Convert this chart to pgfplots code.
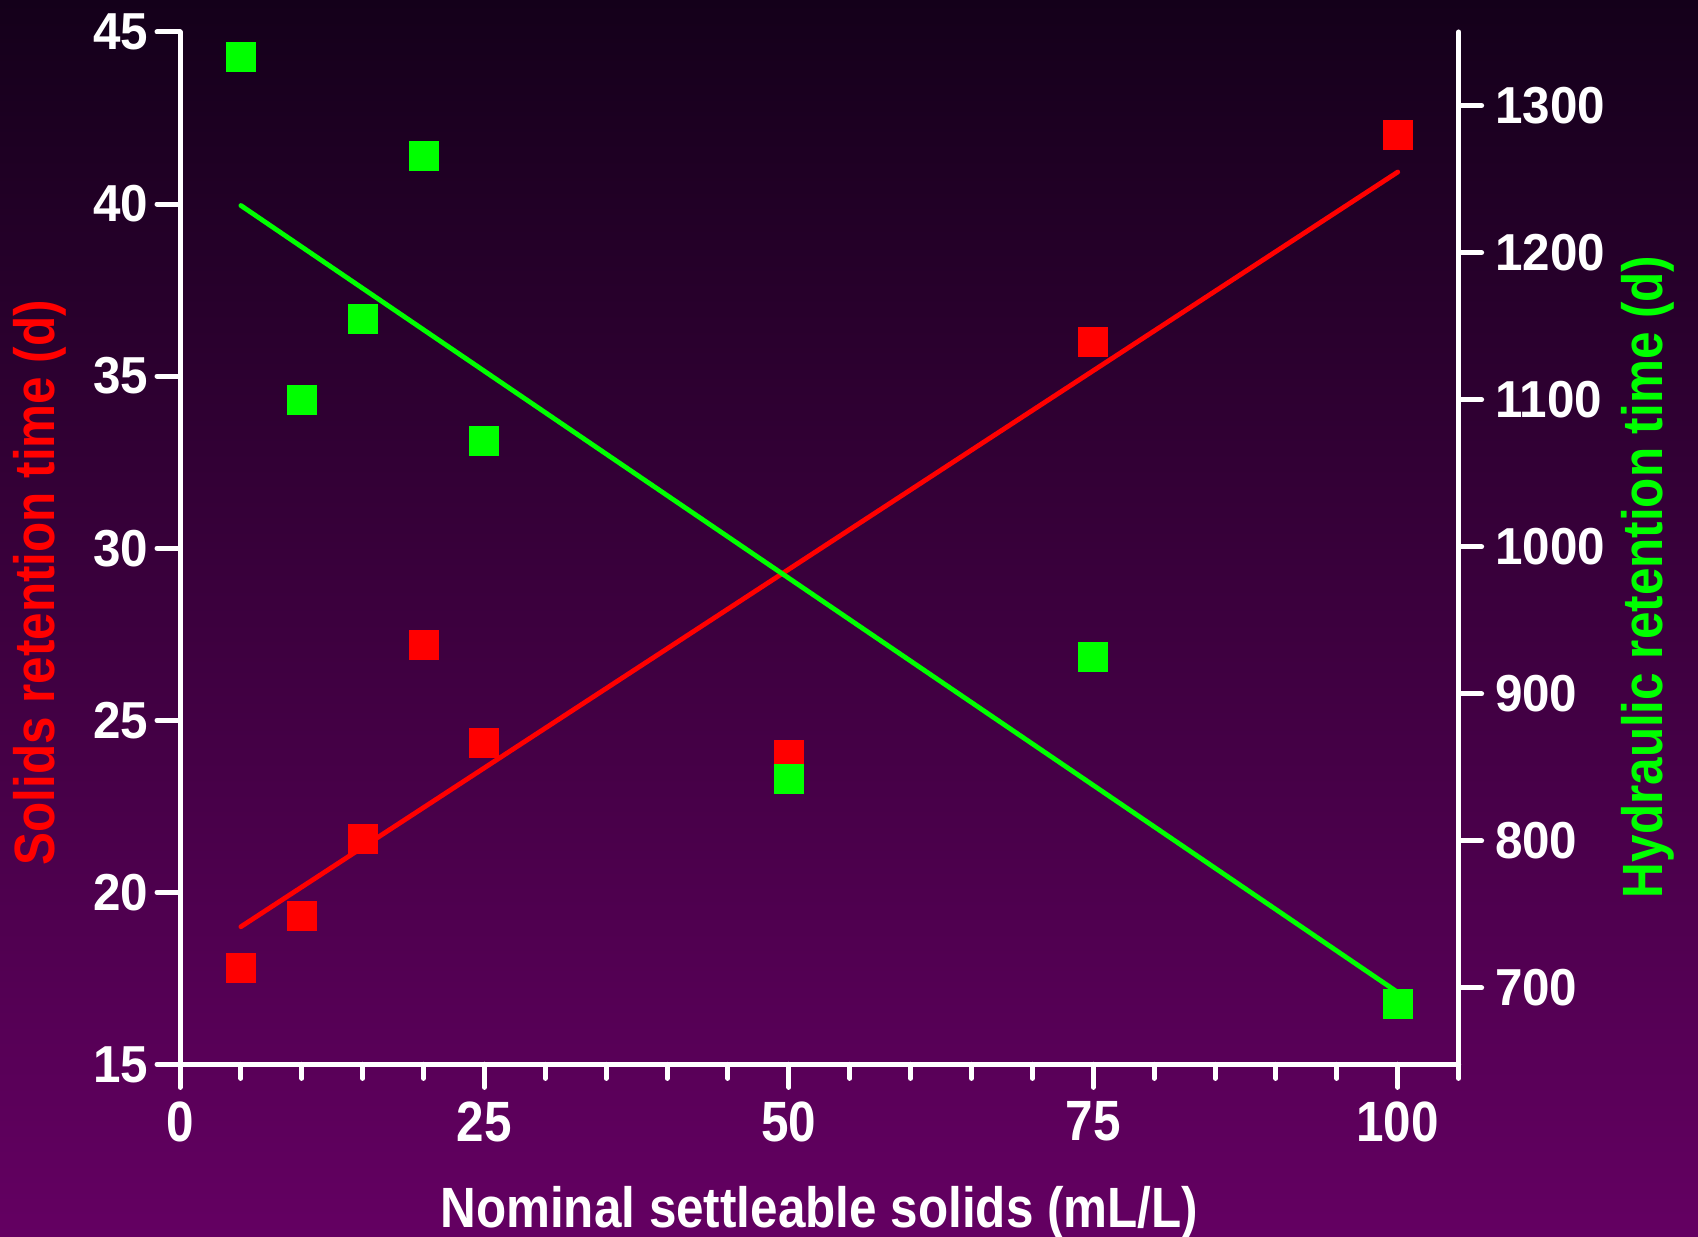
\documentclass[border=0pt]{standalone}
\usepackage{fontspec}
\setmainfont{Liberation Sans}
\usepackage{graphicx}
\usepackage{pgfplots}
\pgfplotsset{compat=1.18}
\definecolor{bgtop}{RGB}{20,0,26}
\definecolor{bgmid}{RGB}{74,0,76}
\definecolor{bgbot}{RGB}{100,0,98}
\definecolor{myred}{RGB}{255,0,0}
\definecolor{mygreen}{RGB}{0,255,0}
\begin{document}
\begin{tikzpicture}
\shade[top color=bgtop, middle color=bgmid, bottom color=bgbot] (-45pt,-43.1pt) rectangle (379.5pt,266.1pt);
\pgfplotsset{
 common/.style={
  width=319.65pt, height=258.1pt, scale only axis,
  at={(0pt,0pt)}, anchor=south west,
  xmin=0, xmax=105, clip=false,
  axis line style={white, line width=1.25pt, line cap=round},
  every tick/.style={white, line width=1.25pt, line cap=round},
  tick align=outside,
  major tick length=5.75pt, minor tick length=3.5pt,
  /pgf/number format/assume math mode=true,
  /pgf/number format/1000 sep={},
 }
}
\begin{axis}[common,
  ymin=15, ymax=45,
  axis x line*=bottom, axis y line*=left,
  xtick={0,25,50,75,100}, minor xtick={5,10,...,105},
  ytick={15,20,...,45},
  xticklabel style={font=\fontsize{14.2}{16}\selectfont\bfseries, text=white, xscale=0.87},
  yticklabel style={font=\fontsize{13}{15}\selectfont\bfseries, text=white, xscale=0.95, xshift=1.2pt},
  xlabel={\scalebox{0.87}[1]{Nominal settleable solids (mL/L)}},
  ylabel={\scalebox{0.87}[1]{Solids retention time (d)}},
  xlabel style={font=\fontsize{14.2}{16}\selectfont\bfseries, text=white, at={(axis description cs:0.5,-0.1437)}, anchor=center},
  ylabel style={font=\fontsize{14.2}{16}\selectfont\bfseries, text=myred, at={(axis description cs:-0.1093,0.4665)}, anchor=center},
]
\addplot[myred, only marks, mark=square*, mark size=3.6pt, mark options={fill=myred, draw=myred, line width=0.3pt}] coordinates {
 (5,17.8) (10,19.3) (15,21.55) (20,27.2) (25,24.33) (50,24.0) (75,36.0) (100,42.0)};
\addplot[myred, line width=1.2pt, line cap=round, no marks] coordinates {(5,19.0) (100,40.93)};
\end{axis}
\begin{axis}[common,
  ymin=648, ymax=1350,
  axis y line*=right, axis x line=none,
  ytick={700,800,...,1300},
  yticklabel style={font=\fontsize{13}{15}\selectfont\bfseries, text=white, xscale=0.95},
  ylabel={\scalebox{0.87}[1]{Hydraulic retention time (d)}},
  ylabel style={font=\fontsize{14.2}{16}\selectfont\bfseries, text=mygreen, at={(axis description cs:1.148,0.4723)}, anchor=center},
]
\addplot[mygreen, line width=1.2pt, line cap=round, no marks] coordinates {(5,1232) (100,697)};
\addplot[mygreen, only marks, mark=square*, mark size=3.6pt, mark options={fill=mygreen, draw=mygreen, line width=0.3pt}] coordinates {
 (5,1333) (10,1100) (15,1155) (20,1266) (25,1072) (50,842) (75,925) (100,689)};
\end{axis}
\pgfresetboundingbox
\useasboundingbox (-45pt,-43.1pt) rectangle (379.5pt,266.1pt);
\end{tikzpicture}
\end{document}
